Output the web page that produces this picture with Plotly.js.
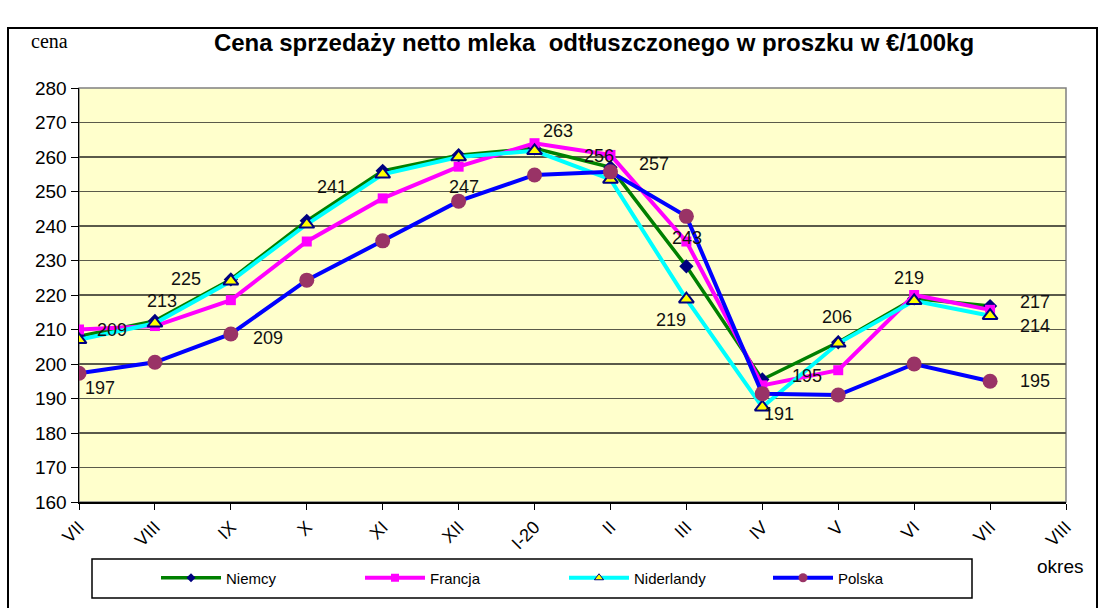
<!DOCTYPE html>
<html><head><meta charset="utf-8">
<script src="https://cdn.plot.ly/plotly-3.0.1.min.js"></script>
<style>body{margin:0;background:#fff}#c{width:1100px;height:608px}</style>
</head><body><div id="c"></div>
<script>
const months = ['VII','VIII','IX','X','XI','XII','I-20','II','III','IV','V','VI','VII','VIII'];
const seriesNames = ['Niemcy','Francja','Niderlandy','Polska'];
const niemcy =     [208, 212.5, 224.5, 241.5, 256, 260.5, 262.5, 257, 228.3, 195.5, 206.3, 219, 216.8];
const francja =    [210, 211, 218.5, 235.5, 248, 257.2, 264, 260.6, 235.5, 193.8, 198.2, 220, 215.7];
const niderlandy = [207, 211.8, 224, 240.5, 255, 260, 261.8, 253.5, 218.8, 187.5, 206, 218.3, 214];
const polska =     [197.3, 200.5, 208.7, 224.3, 235.7, 247.2, 254.8, 255.7, 242.8, 191.4, 191, 200, 195];

// data labels: series, point index, text
const labelSeries = ['Polska','Francja','Niemcy','Niemcy','Polska','Niemcy','Polska','Francja','Polska','Niemcy','Polska','Niderlandy','Niemcy','Polska','Niemcy','Francja','Niemcy','Niderlandy','Polska'];
const labelIndex  = [0,0,1,2,2,3,5,6,7,7,8,8,9,9,10,11,12,12,12];
const labelText   = ['197','209','213','225','209','241','247','263','256','257','243','219','195','191','206','219','217','214','195'];
// label offsets in px (style)
const labelDx = [21,33,7,-45,37,25,5,23,-11,44,1,-15,45,17,-1,-5,45,45,45];
const labelDy = [-15,0,20,0,-4,34,14,12,16,3,-22,-21,4,-20,25,17,4,-10,0];

const seriesMap = {Niemcy: niemcy, Francja: francja, Niderlandy: niderlandy, Polska: polska};
const xs = niemcy.map((_, i) => i);

const styles = {
  Niemcy:     {line:{color:'#008000', width:3.5}, marker:{symbol:'diamond', size:11, color:'#000080'}, lm:7},
  Francja:    {line:{color:'#FF00FF', width:4},   marker:{symbol:'square', size:10, color:'#FF00FF'}, lm:8},
  Niderlandy: {line:{color:'#00FFFF', width:4},   marker:{symbol:'triangle-up', size:13, color:'#FFFF00', line:{color:'#000080', width:2}}, lm:8},
  Polska:     {line:{color:'#0000FF', width:4},   marker:{symbol:'circle', size:15, color:'#993366'}, lm:9}
};

const traces = [];
seriesNames.forEach(n => {
  traces.push({name:n, x: xs, y: seriesMap[n], mode:'lines+markers', showlegend:false,
    line: styles[n].line, marker: styles[n].marker});
});
// legend entries with smaller symbols (no data)
seriesNames.forEach(n => {
  const m = Object.assign({}, styles[n].marker, {size: styles[n].lm});
  if (m.line) m.line = {color:'#000080', width:1};
  traces.push({name:n, x:[null], y:[null], mode:'lines+markers', showlegend:true,
    line: styles[n].line, marker: m, hoverinfo:'skip'});
});

const annotations = labelText.map((t, k) => ({
  x: labelIndex[k], y: seriesMap[labelSeries[k]][labelIndex[k]], xref:'x', yref:'y',
  text: t, showarrow:false, xshift: labelDx[k], yshift: labelDy[k],
  font:{family:'Liberation Sans, Arial, sans-serif', size:18, color:'#111'}
}));
annotations.push({text:'cena', xref:'paper', yref:'paper', x:(49-79)/987, y:(502-41)/414,
  xanchor:'center', yanchor:'middle',
  showarrow:false, font:{family:'Liberation Serif, Times New Roman, serif', size:20, color:'#000'}});
annotations.push({text:'okres', xref:'paper', yref:'paper', x:(1060-79)/987, y:(502-566)/414,
  xanchor:'center', yanchor:'middle',
  showarrow:false, font:{family:'Liberation Sans, Arial, sans-serif', size:19, color:'#000'}});

const layout = {
  width:1100, height:608,
  margin:{l:79, r:34, t:88, b:106},
  paper_bgcolor:'#FFFFFF', plot_bgcolor:'#FFFFCC',
  title:{text:'Cena sprzedaży netto mleka  odtłuszczonego w proszku w €/100kg',
    font:{family:'Liberation Sans, Arial, sans-serif', size:24, color:'#000', weight:'bold'},
    x:594/1100, xanchor:'center', y:1-43/608, yanchor:'middle', xref:'container', yref:'container'},
  xaxis:{range:[0,13], tickvals: months.map((_, i) => i), ticktext: months, tickangle:-45,
    showgrid:false, zeroline:false, showline:true, linecolor:'#000', linewidth:1.5,
    ticks:'outside', ticklen:6, tickcolor:'#000',
    tickfont:{family:'Liberation Sans, Arial, sans-serif', size:18, color:'#000'}},
  yaxis:{range:[160,280], dtick:10, showgrid:true, gridcolor:'#5a5a4a', gridwidth:1.5,
    zeroline:false, showline:true, linecolor:'#000', linewidth:1.5,
    ticks:'outside', ticklen:7, tickcolor:'#000',
    tickfont:{family:'Liberation Sans, Arial, sans-serif', size:19, color:'#000'}},
  showlegend:true,
  legend:{orientation:'h', x:(156-79)/987, xanchor:'left', y:(502-578)/414, yanchor:'middle',
    bgcolor:'rgba(0,0,0,0)', itemwidth:60, entrywidth:129, entrywidthmode:'pixels',
    font:{family:'Liberation Sans, Arial, sans-serif', size:15, color:'#000'}},
  shapes:[
    {type:'rect', xref:'paper', yref:'paper', x0:(8-79)/987, x1:(1097-79)/987, y0:(502-640)/414, y1:(502-28)/414,
     line:{color:'#000', width:2}, fillcolor:'rgba(0,0,0,0)', layer:'below'},
    {type:'rect', xref:'paper', yref:'paper', x0:(92-79)/987, x1:(972-79)/987, y0:(502-598)/414, y1:(502-559)/414,
     line:{color:'#000', width:1.5}, fillcolor:'rgba(0,0,0,0)'},
    {type:'rect', xref:'paper', yref:'paper', x0:0, x1:1, y0:0, y1:1,
     line:{color:'#808080', width:1.5}, fillcolor:'rgba(0,0,0,0)', layer:'below'}
  ],
  annotations: annotations
};
Plotly.newPlot('c', traces, layout, {displayModeBar:false, staticPlot:true});
</script></body></html>
